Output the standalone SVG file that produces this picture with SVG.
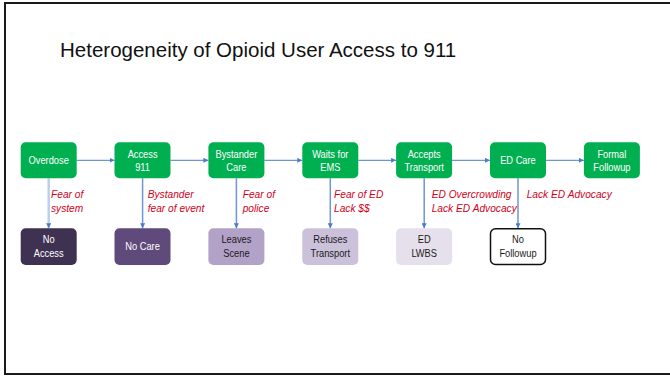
<svg xmlns="http://www.w3.org/2000/svg" width="670" height="376" viewBox="0 0 670 376">
<defs>
<style>
.title{font-family:"Liberation Sans",Arial,sans-serif;font-size:20.5px;fill:#111}
.nt{font-family:"Liberation Sans",Arial,sans-serif;font-size:11.2px;text-anchor:middle}
.w{fill:#fff}
.d{fill:#1a1a1a}
.lbl{font-family:"Liberation Sans",Arial,sans-serif;font-size:10.2px;font-style:italic;fill:#D0021B}
.g{fill:#00B050}
.h{stroke:#4A7CC9;stroke-width:1;fill:none}
.v{stroke:#6F95D3;stroke-width:1.5;fill:none}
</style>
<marker id="ah" markerUnits="userSpaceOnUse" markerWidth="5" markerHeight="5" refX="5" refY="2.5" orient="auto">
<path d="M0,0 L5,2.5 L0,5 z" fill="#4A7CC9"/>
</marker>
</defs>
<rect x="0" y="0" width="670" height="376" fill="#fff"/>
<rect x="5" y="3" width="700" height="371" fill="none" stroke="#1a1a1a" stroke-width="2"/>
<text class="title" x="60" y="57">Heterogeneity of Opioid User Access to 911</text>

<g id="connectors">
<line class="h" x1="76.7" y1="160.3" x2="114.5" y2="160.3" marker-end="url(#ah)"/>
<line class="h" x1="170.5" y1="160.3" x2="208.4" y2="160.3" marker-end="url(#ah)"/>
<line class="h" x1="264.4" y1="160.3" x2="302.3" y2="160.3" marker-end="url(#ah)"/>
<line class="h" x1="358.3" y1="160.3" x2="396.1" y2="160.3" marker-end="url(#ah)"/>
<line class="h" x1="452.1" y1="160.3" x2="490" y2="160.3" marker-end="url(#ah)"/>
<line class="h" x1="546" y1="160.3" x2="583.9" y2="160.3" marker-end="url(#ah)"/>
<line x1="48.7" y1="178.3" x2="48.7" y2="228.3" stroke="#BCD0EC" stroke-width="2.5" marker-end="url(#ah)"/>
<line class="v" x1="142.6" y1="178.3" x2="142.6" y2="228.3" marker-end="url(#ah)"/>
<line class="v" x1="236.4" y1="178.3" x2="236.4" y2="228.3" marker-end="url(#ah)"/>
<line class="v" x1="330.3" y1="178.3" x2="330.3" y2="228.3" marker-end="url(#ah)"/>
<line class="v" x1="424.2" y1="178.3" x2="424.2" y2="228.3" marker-end="url(#ah)"/>
<line class="v" x1="518" y1="178.3" x2="518" y2="228.3" marker-end="url(#ah)"/>
<text class="lbl" x="51" y="198.3">Fear of</text>
<text class="lbl" x="51" y="211.7">system</text>
<text class="lbl" x="147.7" y="198.3">Bystander</text>
<text class="lbl" x="147.7" y="211.7">fear of event</text>
<text class="lbl" x="242.7" y="198.3">Fear of</text>
<text class="lbl" x="242.7" y="211.7">police</text>
<text class="lbl" x="334" y="198.3">Fear of ED</text>
<text class="lbl" x="334" y="211.7">Lack $$</text>
<text class="lbl" x="431.7" y="198.3">ED Overcrowding</text>
<text class="lbl" x="431.7" y="211.7">Lack ED Advocacy</text>
<text class="lbl" x="526.7" y="198.3">Lack ED Advocacy</text>
</g>

<g id="overdose"><rect class="g" x="20.7" y="142.3" width="56" height="36" rx="5"/><g transform="matrix(0.83,0,0,1,8.28,0)"><text class="nt w" x="48.7" y="164.3">Overdose</text></g></g>
<g id="access911"><rect class="g" x="114.5" y="142.3" width="56" height="36" rx="5"/><g transform="matrix(0.83,0,0,1,24.24,0)"><text class="nt w" x="142.6" y="158.3">Access</text><text class="nt w" x="142.6" y="170.8">911</text></g></g>
<g id="bystander"><rect class="g" x="208.4" y="142.3" width="56" height="36" rx="5"/><g transform="matrix(0.83,0,0,1,40.19,0)"><text class="nt w" x="236.4" y="158.3">Bystander</text><text class="nt w" x="236.4" y="170.8">Care</text></g></g>
<g id="waits"><rect class="g" x="302.3" y="142.3" width="56" height="36" rx="5"/><g transform="matrix(0.83,0,0,1,56.15,0)"><text class="nt w" x="330.3" y="158.3">Waits for</text><text class="nt w" x="330.3" y="170.8">EMS</text></g></g>
<g id="accepts"><rect class="g" x="396.1" y="142.3" width="56" height="36" rx="5"/><g transform="matrix(0.83,0,0,1,72.11,0)"><text class="nt w" x="424.2" y="158.3">Accepts</text><text class="nt w" x="424.2" y="170.8">Transport</text></g></g>
<g id="edcare"><rect class="g" x="490" y="142.3" width="56" height="36" rx="5"/><g transform="matrix(0.83,0,0,1,88.06,0)"><text class="nt w" x="518" y="164.3">ED Care</text></g></g>
<g id="formal"><rect class="g" x="583.9" y="142.3" width="56" height="36" rx="5"/><g transform="matrix(0.83,0,0,1,104.02,0)"><text class="nt w" x="611.9" y="158.3">Formal</text><text class="nt w" x="611.9" y="170.8">Followup</text></g></g>

<g id="noaccess"><rect x="20.7" y="228.3" width="56" height="36.7" rx="5" fill="#3F3151"/><g transform="matrix(0.83,0,0,1,8.28,0)"><text class="nt w" x="48.7" y="243.5">No</text><text class="nt w" x="48.7" y="256.7">Access</text></g></g>
<g id="nocare"><rect x="114.5" y="228.3" width="56" height="36.7" rx="5" fill="#604A7B"/><g transform="matrix(0.83,0,0,1,24.24,0)"><text class="nt w" x="142.6" y="250.5">No Care</text></g></g>
<g id="leaves"><rect x="208.4" y="228.3" width="56" height="36.7" rx="5" fill="#B3A2C7"/><g transform="matrix(0.83,0,0,1,40.19,0)"><text class="nt d" x="236.4" y="243.5">Leaves</text><text class="nt d" x="236.4" y="256.7">Scene</text></g></g>
<g id="refuses"><rect x="302.3" y="228.3" width="56" height="36.7" rx="5" fill="#CCC1DA"/><g transform="matrix(0.83,0,0,1,56.15,0)"><text class="nt d" x="330.3" y="243.5">Refuses</text><text class="nt d" x="330.3" y="256.7">Transport</text></g></g>
<g id="lwbs"><rect x="396.1" y="228.3" width="56" height="36.7" rx="5" fill="#E6E0EC"/><g transform="matrix(0.83,0,0,1,72.11,0)"><text class="nt d" x="424.2" y="243.5">ED</text><text class="nt d" x="424.2" y="256.7">LWBS</text></g></g>
<g id="nofollowup"><rect x="490.5" y="228.8" width="55" height="35.7" rx="5" fill="#fff" stroke="#111" stroke-width="1.5"/><g transform="matrix(0.83,0,0,1,88.06,0)"><text class="nt d" x="518" y="243.5">No</text><text class="nt d" x="518" y="256.7">Followup</text></g></g>
</svg>
